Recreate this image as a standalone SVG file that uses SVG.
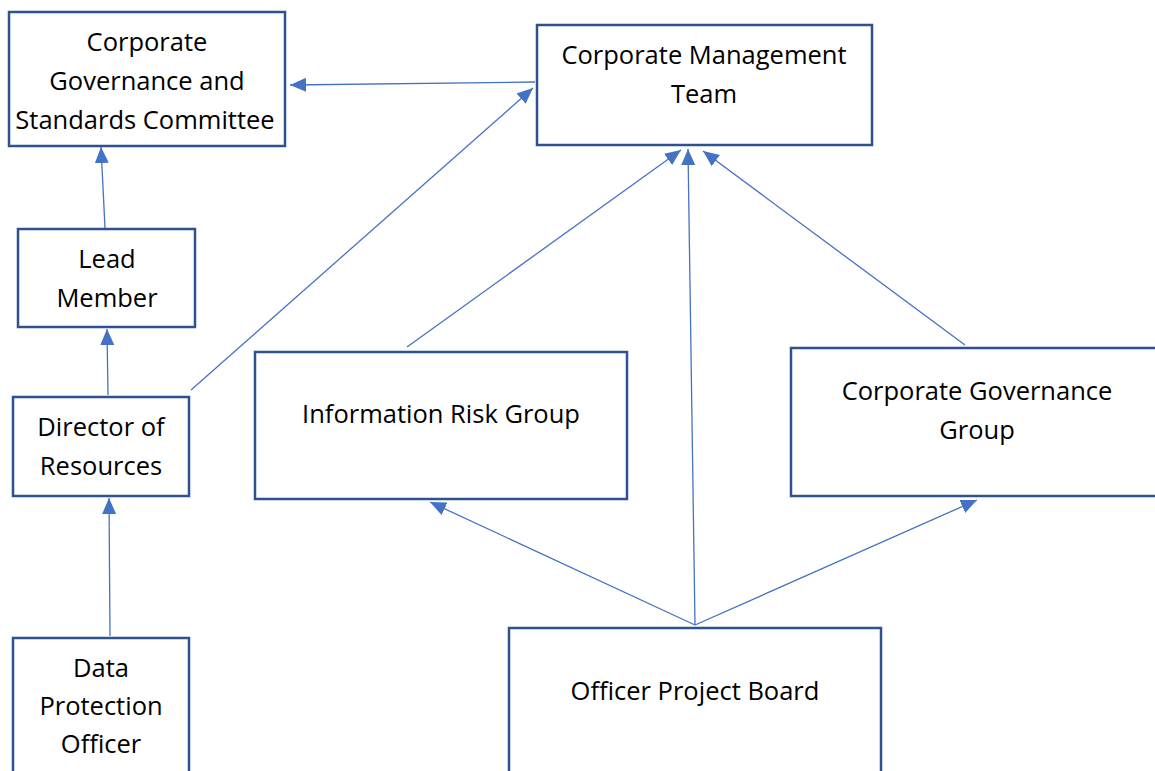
<svg xmlns="http://www.w3.org/2000/svg" width="1155" height="771" viewBox="0 0 1155 771">
  <style>
    .box { fill: #ffffff; stroke: #2F528F; stroke-width: 2.5; }
    .lbl { font-family: "Open Sans", "Liberation Sans", sans-serif; font-size: 25.5px; fill: #000000; text-anchor: middle; }
    .conn { stroke: #4472C4; stroke-width: 1.3; fill: none; marker-end: url(#arrow); }
  </style>
  <defs>
    <marker id="arrow" viewBox="0 0 16 14" refX="16" refY="7" markerWidth="16" markerHeight="14" markerUnits="userSpaceOnUse" orient="auto">
      <path d="M0,0 L16,7 L0,14 Z" fill="#4472C4"/>
    </marker>
  </defs>
  <rect width="1155" height="771" fill="#ffffff"/>

  <g id="connectors">
    <line class="conn" x1="535" y1="82" x2="290" y2="85"/>
    <line class="conn" x1="191" y1="390" x2="533" y2="88"/>
    <line class="conn" x1="105" y1="228" x2="101" y2="147"/>
    <line class="conn" x1="108" y1="395" x2="107" y2="329"/>
    <line class="conn" x1="110" y1="636" x2="109" y2="498"/>
    <line class="conn" x1="407" y1="347" x2="681" y2="150"/>
    <line class="conn" x1="695" y1="625" x2="688" y2="149"/>
    <line class="conn" x1="965" y1="345" x2="703" y2="151"/>
    <line class="conn" x1="695" y1="625" x2="430" y2="502"/>
    <line class="conn" x1="695" y1="625" x2="977" y2="500"/>
  </g>

  <g id="cgsc">
    <rect class="box" x="9" y="12" width="276" height="134"/>
    <text class="lbl" x="147" y="51">Corporate</text>
    <text class="lbl" x="147" y="90">Governance and</text>
    <text class="lbl" x="145" y="129">Standards Committee</text>
  </g>
  <g id="cmt">
    <rect class="box" x="537" y="25" width="335" height="120"/>
    <text class="lbl" x="704" y="64">Corporate Management</text>
    <text class="lbl" x="704" y="103">Team</text>
  </g>
  <g id="lead-member">
    <rect class="box" x="18" y="229" width="177" height="98"/>
    <text class="lbl" x="107" y="268">Lead</text>
    <text class="lbl" x="107" y="307">Member</text>
  </g>
  <g id="director">
    <rect class="box" x="13" y="397" width="176" height="99"/>
    <text class="lbl" x="101" y="436">Director of</text>
    <text class="lbl" x="101" y="475">Resources</text>
  </g>
  <g id="irg">
    <rect class="box" x="255" y="352" width="372" height="147"/>
    <text class="lbl" x="441" y="423">Information Risk Group</text>
  </g>
  <g id="cgg">
    <rect class="box" x="791" y="348" width="372" height="148"/>
    <text class="lbl" x="977" y="400">Corporate Governance</text>
    <text class="lbl" x="977" y="439">Group</text>
  </g>
  <g id="dpo">
    <rect class="box" x="13" y="638" width="176" height="150"/>
    <text class="lbl" x="101" y="677">Data</text>
    <text class="lbl" x="101" y="715">Protection</text>
    <text class="lbl" x="101" y="753">Officer</text>
  </g>
  <g id="opb">
    <rect class="box" x="509" y="628" width="372" height="160"/>
    <text class="lbl" x="695" y="700">Officer Project Board</text>
  </g>
</svg>
